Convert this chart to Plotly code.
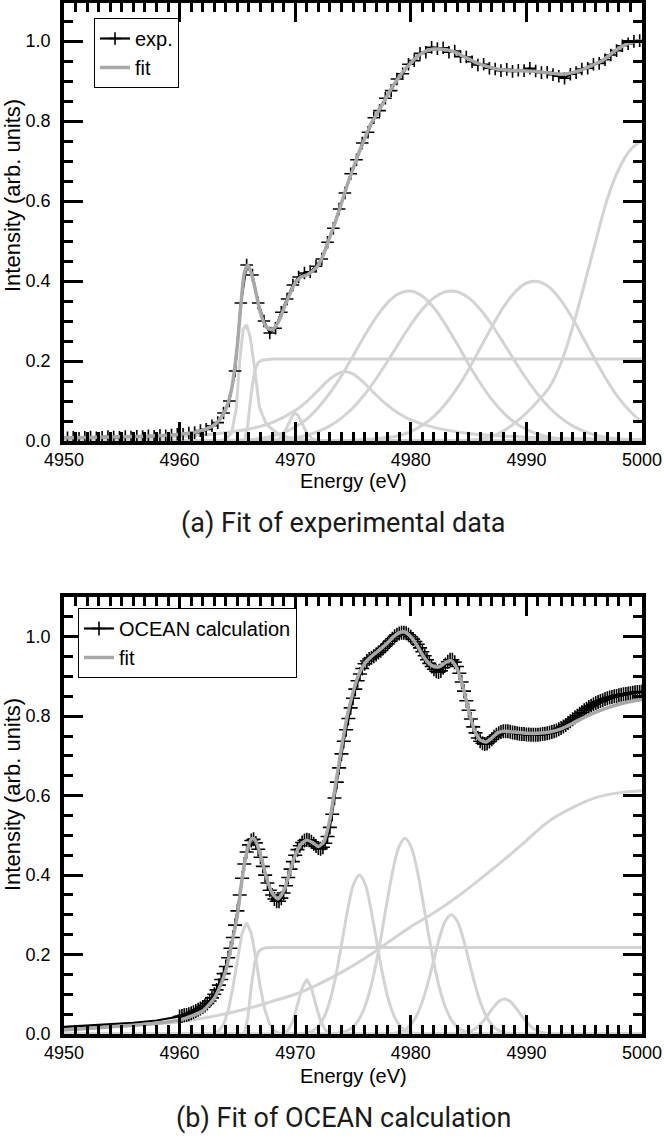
import numpy as np
import plotly.graph_objects as go

# ---------------- Panel (a): experimental data ----------------
exp_a_energy = np.round(np.arange(4950.3, 5000.0, 0.5), 1)
exp_a_values = [
    0.008, 0.009, 0.007, 0.009, 0.010, 0.008, 0.009, 0.011, 0.010, 0.009,
    0.011, 0.010, 0.012, 0.011, 0.013, 0.012, 0.014, 0.013, 0.015, 0.017,
    0.017, 0.020, 0.021, 0.026, 0.029, 0.038, 0.046, 0.070, 0.100, 0.175,
    0.345, 0.440, 0.415, 0.345, 0.300, 0.270, 0.282, 0.322, 0.355, 0.390,
    0.410, 0.420, 0.423, 0.437, 0.455, 0.497, 0.532, 0.580, 0.620, 0.668,
    0.703, 0.745, 0.772, 0.808, 0.826, 0.857, 0.876, 0.905, 0.918, 0.942,
    0.951, 0.969, 0.972, 0.984, 0.981, 0.983, 0.972, 0.975, 0.961, 0.960,
    0.948, 0.940, 0.942, 0.932, 0.930, 0.926, 0.929, 0.924, 0.927, 0.926,
    0.932, 0.925, 0.921, 0.922, 0.916, 0.912, 0.907, 0.917, 0.921, 0.930,
    0.932, 0.942, 0.944, 0.953, 0.965, 0.976, 0.988, 0.993, 0.999, 1.001,
]

fit_a_energy = [4950, 4952, 4954, 4956, 4958, 4960, 4961, 4962, 4963, 4963.5, 4964, 4964.5, 4965,
                4965.3, 4965.6, 4965.9, 4966.2, 4966.5,
                4967, 4967.5, 4968, 4968.5, 4969, 4969.5, 4970, 4970.5, 4971, 4971.5, 4972, 4972.5,
                4973, 4973.5, 4974, 4974.5, 4975, 4975.5, 4976, 4976.5, 4977, 4977.5, 4978, 4978.5,
                4979, 4979.5, 4980, 4980.5, 4981, 4981.5, 4982, 4982.5, 4983, 4983.5, 4984, 4984.5,
                4985, 4985.5, 4986, 4986.5, 4987, 4987.5, 4988,
                4989, 4990, 4991, 4992,
                4992.5, 4993, 4993.5, 4994, 4994.5, 4995, 4995.5, 4996, 4996.5, 4997, 4997.5, 4998,
                4998.5, 4999, 4999.5, 5000]
fit_a_values = [0.008, 0.009, 0.010, 0.011, 0.013, 0.017, 0.020, 0.027, 0.040, 0.055, 0.080, 0.130, 0.240,
                0.340, 0.420, 0.440, 0.420, 0.385,
                0.320, 0.285, 0.278, 0.295, 0.330, 0.365, 0.395, 0.410, 0.415, 0.425, 0.440, 0.470,
                0.510, 0.550, 0.595, 0.640, 0.680, 0.720, 0.755, 0.790, 0.815, 0.840, 0.865, 0.890,
                0.910, 0.930, 0.945, 0.960, 0.970, 0.977, 0.980, 0.980, 0.978, 0.975, 0.970, 0.962,
                0.955, 0.948, 0.942, 0.937, 0.933, 0.930, 0.928,
                0.926, 0.925, 0.923, 0.920,
                0.918, 0.917, 0.918, 0.921, 0.925, 0.930, 0.937, 0.943, 0.950, 0.960, 0.972, 0.982,
                0.990, 0.996, 0.999, 1.000]

# fit components of panel (a)
comp_a1_energy = [4950, 4963.5, 4964.0, 4964.5, 4964.9, 4965.2, 4965.5, 4965.8, 4966.1, 4966.5, 4966.9,
                  4967.5, 4968.4, 4969.5, 4971, 5000]
comp_a1_values = [0, 0, 0.005, 0.02, 0.08, 0.20, 0.28, 0.29, 0.26, 0.18, 0.085, 0.042, 0.02, 0.008, 0.002, 0]
comp_a2_energy = [4950, 4965.6, 4965.9, 4966.2, 4966.5, 4966.8, 4967.1, 4967.5, 4968.0, 5000]
comp_a2_values = [0, 0, 0.04, 0.12, 0.175, 0.196, 0.202, 0.204, 0.205, 0.205]
comp_a3_energy = [4950, 4968.5, 4969.0, 4969.25, 4969.5, 4969.75, 4970.0, 4970.25, 4970.5, 4970.75,
                  4971.0, 4971.5, 4972.0, 5000]
comp_a3_values = [0, 0.002, 0.018, 0.031, 0.047, 0.062, 0.070, 0.064, 0.050, 0.034, 0.020, 0.005, 0, 0]
comp_a4_energy = [4950, 4955, 4960, 4963, 4966, 4968, 4970, 4971, 4972, 4973, 4974, 4974.3, 4975, 4976,
                  4977, 4978, 4979, 4980, 4982, 4985, 4990, 4995, 5000]
comp_a4_values = [0.004, 0.0065, 0.0114, 0.0176, 0.030, 0.046, 0.076, 0.0986, 0.127, 0.155, 0.172, 0.173,
                  0.168, 0.144, 0.115, 0.089, 0.068, 0.053, 0.034, 0.019, 0.0096, 0.0056, 0.0037]
comp_a5_energy = [4950, 4964, 4966, 4968, 4969, 4970, 4971, 4972, 4973, 4974, 4975, 4976, 4977, 4978,
                  4979, 4980, 4981, 4982, 4983, 4984, 4985, 4986, 4987, 4988, 4989, 4990, 4991, 4992,
                  4993, 4994, 5000]
comp_a5_values = [0, 0.001, 0.003, 0.012, 0.021, 0.035, 0.055, 0.084, 0.120, 0.163, 0.212, 0.263, 0.309,
                  0.346, 0.369, 0.375, 0.362, 0.333, 0.291, 0.243, 0.192, 0.145, 0.104, 0.071, 0.046,
                  0.029, 0.017, 0.0095, 0.005, 0.0025, 0]
comp_a6_energy = [4950, 4966, 4968, 4970, 4971, 4972, 4973, 4974, 4975, 4976, 4977, 4978, 4979, 4980,
                  4981, 4982, 4983, 4984, 4985, 4986, 4987, 4988, 4989, 4990, 4991, 4992, 4993, 4994,
                  4995, 4996, 4997, 4998, 5000]
comp_a6_values = [0, 0.001, 0.003, 0.0084, 0.0145, 0.0239, 0.0378, 0.0573, 0.0833, 0.1163, 0.1556,
                  0.1997, 0.246, 0.2906, 0.3292, 0.3578, 0.373, 0.373, 0.3578, 0.3292, 0.2906, 0.246,
                  0.1997, 0.1556, 0.1163, 0.0833, 0.0573, 0.0378, 0.0239, 0.0145, 0.0084, 0.0047, 0.001]
comp_a7_energy = [4950, 4975, 4977, 4978, 4979, 4980, 4981, 4982, 4983, 4984, 4985, 4986, 4987, 4988,
                  4989, 4990, 4991, 4992, 4993, 4994, 4995, 4996, 4997, 4998, 4999, 5000]
comp_a7_values = [0, 0.002, 0.0055, 0.0085, 0.0136, 0.0237, 0.0392, 0.0617, 0.0925, 0.132, 0.179, 0.232,
                  0.285, 0.334, 0.372, 0.395, 0.399, 0.384, 0.351, 0.306, 0.253, 0.200, 0.150, 0.107,
                  0.073, 0.047]
comp_a8_energy = [4950, 4984, 4986, 4987, 4988, 4989, 4990, 4991, 4992, 4993, 4994, 4995, 4996, 4997,
                  4998, 4999, 5000]
comp_a8_values = [0, 0.001, 0.005, 0.012, 0.025, 0.045, 0.070, 0.100, 0.135, 0.195, 0.285, 0.390, 0.500,
                  0.605, 0.680, 0.728, 0.752]

# ---------------- Panel (b): OCEAN calculation ----------------
calc_pre_energy = [4950, 4952, 4954, 4956, 4958, 4960]
calc_pre_values = [0.018, 0.021, 0.024, 0.028, 0.034, 0.044]
calc_b_energy = np.round(np.linspace(4960.0, 5000.0, 201), 1)
calc_b_values = [
    0.044, 0.045, 0.047, 0.048, 0.050, 0.052, 0.055, 0.058, 0.061, 0.064,
    0.068, 0.072, 0.077, 0.083, 0.091, 0.100, 0.111, 0.123, 0.137, 0.152,
    0.170, 0.192, 0.216, 0.243, 0.274, 0.310, 0.350, 0.392, 0.428, 0.458,
    0.476, 0.487, 0.490, 0.481, 0.465, 0.445, 0.422, 0.400, 0.380, 0.362,
    0.350, 0.340, 0.334, 0.334, 0.342, 0.355, 0.373, 0.394, 0.415, 0.434,
    0.450, 0.464, 0.474, 0.482, 0.487, 0.489, 0.488, 0.484, 0.479, 0.473,
    0.468, 0.466, 0.470, 0.480, 0.497, 0.520, 0.553, 0.594, 0.634, 0.670,
    0.705, 0.737, 0.766, 0.794, 0.821, 0.845, 0.868, 0.889, 0.906, 0.920,
    0.932, 0.939, 0.944, 0.947, 0.951, 0.955, 0.960, 0.965, 0.971, 0.976,
    0.982, 0.989, 0.995, 1.001, 1.005, 1.008, 1.010, 1.010, 1.009, 1.005,
    1.000, 0.994, 0.988, 0.981, 0.972, 0.962, 0.952, 0.942, 0.933, 0.925,
    0.918, 0.913, 0.911, 0.914, 0.922, 0.930, 0.937, 0.942, 0.942, 0.936,
    0.925, 0.908, 0.886, 0.863, 0.839, 0.815, 0.793, 0.773, 0.758, 0.745,
    0.737, 0.732, 0.730, 0.731, 0.736, 0.742, 0.748, 0.753, 0.757, 0.760,
    0.762, 0.762, 0.762, 0.761, 0.759, 0.758, 0.757, 0.756, 0.755, 0.755,
    0.754, 0.754, 0.753, 0.753, 0.753, 0.753, 0.754, 0.755, 0.756, 0.757,
    0.758, 0.760, 0.762, 0.764, 0.767, 0.770, 0.774, 0.778, 0.783, 0.787,
    0.792, 0.797, 0.801, 0.806, 0.810, 0.815, 0.819, 0.823, 0.826, 0.830,
    0.833, 0.836, 0.838, 0.840, 0.843, 0.845, 0.847, 0.848, 0.850, 0.851,
    0.853, 0.854, 0.855, 0.856, 0.857, 0.858, 0.859, 0.860, 0.861, 0.861,
    0.862,
]

fit_b_energy = [4950, 4952, 4954, 4956, 4958, 4960, 4961, 4962, 4963, 4963.5, 4964, 4964.5, 4965, 4965.5,
                4966, 4966.3, 4966.6,
                4967, 4967.5, 4968, 4968.5, 4969, 4969.5, 4970, 4970.5, 4971, 4971.5, 4972, 4972.5,
                4973, 4973.5, 4974, 4974.5, 4975, 4975.5, 4976, 4976.5, 4977, 4977.5, 4978, 4978.5,
                4979, 4979.5, 4980, 4980.5, 4981, 4981.5, 4982, 4982.5, 4983, 4983.5, 4984, 4984.5,
                4985, 4985.5, 4986, 4986.5, 4987, 4987.5, 4988,
                4989, 4990, 4991, 4992, 4993, 4994, 4995, 4996, 4997, 4998, 4999, 5000]
fit_b_values = [0.010, 0.014, 0.018, 0.022, 0.027, 0.035, 0.045, 0.058, 0.090, 0.120, 0.160, 0.225, 0.300,
                0.410, 0.478, 0.493, 0.485,
                0.450, 0.395, 0.355, 0.340, 0.360, 0.405, 0.450, 0.478, 0.488, 0.482, 0.472, 0.485,
                0.540, 0.630, 0.720, 0.800, 0.860, 0.905, 0.932, 0.948, 0.960, 0.972, 0.985, 1.000,
                1.010, 1.012, 1.000, 0.980, 0.955, 0.935, 0.925, 0.925, 0.935, 0.940, 0.920, 0.875,
                0.815, 0.765, 0.740, 0.735, 0.745, 0.758, 0.762,
                0.760, 0.757, 0.757, 0.760, 0.768, 0.782, 0.797, 0.810, 0.821, 0.830, 0.837, 0.842]

comp_b1_energy = [4950, 4962.6, 4963.0, 4963.4, 4963.8, 4964.2, 4964.6, 4965.0, 4965.4, 4965.8, 4966.2,
                  4966.6, 4967.0, 4967.4, 4967.8, 4968.2, 4968.6, 4969.0, 5000]
comp_b1_values = [0, 0, 0.002, 0.008, 0.024, 0.058, 0.115, 0.189, 0.254, 0.28, 0.254, 0.189, 0.115, 0.058,
                  0.024, 0.008, 0.002, 0, 0]
comp_b2_energy = [4950, 4965.6, 4965.9, 4966.2, 4966.5, 4966.8, 4967.1, 4967.5, 4968.0, 5000]
comp_b2_values = [0, 0, 0.04, 0.12, 0.18, 0.206, 0.214, 0.217, 0.218, 0.218]
comp_b3_energy = [4950, 4955, 4960, 4963, 4966, 4968, 4970, 4972, 4974, 4976, 4978, 4980, 4982, 4984,
                  4986, 4988, 4990, 4992, 4994, 4996, 4998, 5000]
comp_b3_values = [0.012, 0.020, 0.031, 0.045, 0.065, 0.082, 0.100, 0.125, 0.155, 0.190, 0.230, 0.270,
                  0.305, 0.345, 0.390, 0.437, 0.487, 0.537, 0.570, 0.595, 0.607, 0.612]
comp_b4_energy = [4950, 4968.6, 4969.0, 4969.4, 4969.8, 4970.2, 4970.6, 4971.0, 4971.4, 4971.8, 4972.2,
                  4972.6, 4973.0, 4973.4, 5000]
comp_b4_values = [0, 0, 0.002, 0.010, 0.032, 0.072, 0.117, 0.138, 0.117, 0.072, 0.032, 0.010, 0.002, 0, 0]
comp_b5_energy = [4950, 4970.05, 4970.55, 4971.05, 4971.55, 4972.05, 4972.55, 4973.05, 4973.55, 4974.05,
                  4974.55, 4975.05, 4975.55, 4976.05, 4976.55, 4977.05, 4977.55, 4978.05, 4978.55,
                  4979.05, 4979.55, 4980.05, 4980.55, 4981.05, 5000]
comp_b5_values = [0, 0, 0.001, 0.003, 0.0084, 0.0209, 0.0456, 0.0886, 0.152, 0.232, 0.314, 0.377, 0.400,
                  0.377, 0.314, 0.232, 0.152, 0.0886, 0.0456, 0.0209, 0.0084, 0.003, 0.001, 0, 0]
comp_b6_energy = [4950, 4973.0, 4973.5, 4974.0, 4974.5, 4975.0, 4975.5, 4976.0, 4976.5, 4977.0, 4977.5,
                  4978.0, 4978.5, 4979.0, 4979.5, 4980.0, 4980.5, 4981.0, 4981.5, 4982.0, 4982.5,
                  4983.0, 4983.5, 4984.0, 4984.5, 4985.0, 4985.5, 4986.0, 5000]
comp_b6_values = [0, 0, 0.0014, 0.0035, 0.0083, 0.0181, 0.0362, 0.0667, 0.1135, 0.178, 0.257, 0.342,
                  0.419, 0.473, 0.493, 0.473, 0.419, 0.342, 0.257, 0.178, 0.1135, 0.0667, 0.0362, 0.0181,
                  0.0083, 0.0035, 0.0014, 0, 0]
comp_b7_energy = [4950, 4978.0, 4978.5, 4979.0, 4979.5, 4980.0, 4980.5, 4981.0, 4981.5, 4982.0, 4982.5,
                  4983.0, 4983.5, 4984.0, 4984.5, 4985.0, 4985.5, 4986.0, 4986.5, 4987.0, 4987.5,
                  4988.0, 4988.5, 4989.0, 5000]
comp_b7_values = [0, 0, 0.0017, 0.0044, 0.0107, 0.0235, 0.0461, 0.0817, 0.1305, 0.188, 0.244, 0.285, 0.300,
                  0.285, 0.244, 0.188, 0.1305, 0.0817, 0.0461, 0.0235, 0.0107, 0.0044, 0.0017, 0, 0]
comp_b8_energy = [4950, 4983.6, 4984.1, 4984.6, 4985.1, 4985.6, 4986.1, 4986.6, 4987.1, 4987.6, 4988.1,
                  4988.6, 4989.1, 4989.6, 4990.1, 4990.6, 4991.1, 4991.6, 4992.1, 4992.6, 5000]
comp_b8_values = [0, 0, 0.0008, 0.0023, 0.0061, 0.0139, 0.027, 0.0452, 0.0654, 0.0817, 0.088, 0.0817,
                  0.0654, 0.0452, 0.027, 0.0139, 0.0061, 0.0023, 0.0008, 0, 0]

captions = ["(a) Fit of experimental data", "(b) Fit of OCEAN calculation"]
x_title = "Energy (eV)"
y_title = "Intensity (arb. units)"
x_range = [4950, 5000]

# ---------------- figure ----------------
W, H = 664, 1148
COMP = "#d3d3d3"
FIT = "#a8a8a8"


def fx(p):
    return p / W


def fy(p):
    return 1 - p / H


fig = go.Figure()

comps_a = [(comp_a1_energy, comp_a1_values, "linear"), (comp_a2_energy, comp_a2_values, "linear"),
           (comp_a3_energy, comp_a3_values, "linear"), (comp_a4_energy, comp_a4_values, "spline"),
           (comp_a5_energy, comp_a5_values, "spline"), (comp_a6_energy, comp_a6_values, "spline"),
           (comp_a7_energy, comp_a7_values, "spline"), (comp_a8_energy, comp_a8_values, "spline")]
for e, v, shp in comps_a:
    fig.add_trace(go.Scatter(x=e, y=v, mode="lines", line=dict(color=COMP, width=3, shape=shp),
                             showlegend=False, hoverinfo="skip", xaxis="x", yaxis="y"))

fig.add_trace(go.Scatter(x=exp_a_energy, y=exp_a_values, mode="lines+markers", name="exp.",
                         line=dict(color="black", width=2.2),
                         marker=dict(symbol="cross-thin", size=9, line=dict(width=1.6, color="black"),
                                     color="black"),
                         legend="legend", legendrank=1, xaxis="x", yaxis="y"))
fig.add_trace(go.Scatter(x=fit_a_energy, y=fit_a_values, mode="lines", name="fit",
                         line=dict(color=FIT, width=3.5, shape="spline", smoothing=0.6),
                         legend="legend", legendrank=2, xaxis="x", yaxis="y"))

comps_b = [(comp_b1_energy, comp_b1_values, "linear"), (comp_b2_energy, comp_b2_values, "linear"),
           (comp_b3_energy, comp_b3_values, "spline"), (comp_b4_energy, comp_b4_values, "linear"),
           (comp_b5_energy, comp_b5_values, "spline"), (comp_b6_energy, comp_b6_values, "spline"),
           (comp_b7_energy, comp_b7_values, "spline"), (comp_b8_energy, comp_b8_values, "spline")]
for e, v, shp in comps_b:
    fig.add_trace(go.Scatter(x=e, y=v, mode="lines", line=dict(color=COMP, width=3, shape=shp),
                             showlegend=False, hoverinfo="skip", xaxis="x2", yaxis="y2"))

fig.add_trace(go.Scatter(x=calc_pre_energy, y=calc_pre_values, mode="lines",
                         line=dict(color="black", width=2.2), showlegend=False, hoverinfo="skip",
                         xaxis="x2", yaxis="y2"))
fig.add_trace(go.Scatter(x=calc_b_energy, y=calc_b_values, mode="lines+markers", name="OCEAN calculation",
                         line=dict(color="black", width=2.2),
                         marker=dict(symbol="cross-thin", size=10, line=dict(width=1.6, color="black"),
                                     color="black"),
                         legend="legend2", legendrank=1, xaxis="x2", yaxis="y2"))
fig.add_trace(go.Scatter(x=fit_b_energy, y=fit_b_values, mode="lines", name="fit",
                         line=dict(color=FIT, width=3.5, shape="spline", smoothing=0.6),
                         legend="legend2", legendrank=2, xaxis="x2", yaxis="y2"))

# empty traces so the mirrored tick axes (top / right) are rendered
for xa, ya in [("x3", "y3"), ("x4", "y4")]:
    fig.add_trace(go.Scatter(x=[], y=[], mode="lines", showlegend=False, hoverinfo="skip",
                             xaxis=xa, yaxis=ya))

tickfont = dict(family="Liberation Sans, Arial, sans-serif", size=18, color="black")
xdom = [fx(64), fx(642)]
MAJ = dict(ticks="inside", ticklen=19, tickwidth=3, tickcolor="black")


def xaxis_cfg(anchor, labels=True, overlay=None):
    d = dict(domain=xdom, anchor=anchor, range=x_range, tick0=4950, dtick=10,
             showgrid=False, zeroline=False, tickfont=tickfont, automargin=False,
             showticklabels=labels, ticklabeloverflow="allow",
             minor=dict(dtick=1, ticks="inside", ticklen=9, tickwidth=2.5, tickcolor="black",
                        showgrid=False), **MAJ)
    if overlay:
        d.update(overlaying=overlay, side="top", showline=False)
    else:
        d.update(showline=True, linewidth=3.5, linecolor="black", mirror=True)
    return d


def yaxis_cfg(anchor, dom, top, labels=True, overlay=None):
    d = dict(domain=dom, anchor=anchor, range=[0, top], tick0=0, dtick=0.2, tickformat=".1f",
             showgrid=False, zeroline=False, tickfont=tickfont, ticklabelstandoff=6,
             automargin=False, showticklabels=labels, ticklabeloverflow="allow",
             minor=dict(dtick=0.05, ticks="inside", ticklen=9, tickwidth=2.5, tickcolor="black",
                        showgrid=False), **MAJ)
    if overlay:
        d.update(overlaying=overlay, side="right", showline=False)
    else:
        d.update(showline=True, linewidth=3.5, linecolor="black", mirror=True)
    return d


dom_a = [fy(441), fy(3)]
dom_b = [fy(1034), fy(597)]
legfont = dict(family="Liberation Sans, Arial, sans-serif", size=20, color="black")
fig.update_layout(
    width=W, height=H, margin=dict(l=0, r=0, t=0, b=0, autoexpand=False),
    paper_bgcolor="white", plot_bgcolor="white",
    xaxis=xaxis_cfg("y"),
    yaxis=yaxis_cfg("x", dom_a, 1.095),
    xaxis2=xaxis_cfg("y2"),
    yaxis2=yaxis_cfg("x2", dom_b, 1.1),
    xaxis3=xaxis_cfg("y", labels=False, overlay="x"),
    yaxis3=yaxis_cfg("x", dom_a, 1.095, labels=False, overlay="y"),
    xaxis4=xaxis_cfg("y2", labels=False, overlay="x2"),
    yaxis4=yaxis_cfg("x2", dom_b, 1.1, labels=False, overlay="y2"),
    legend=dict(x=fx(94), y=fy(18), xanchor="left", yanchor="top", bgcolor="white",
                bordercolor="black", borderwidth=1, font=legfont, tracegroupgap=0,
                itemwidth=30),
    legend2=dict(x=fx(78), y=fy(608), xanchor="left", yanchor="top", bgcolor="white",
                 bordercolor="black", borderwidth=1, font=legfont, tracegroupgap=0,
                 itemwidth=30),
    showlegend=True,
)

anns = []
capfont = dict(family="Roboto, sans-serif", size=27, color="#1a1a1a")
axfont = dict(family="Liberation Sans, Arial, sans-serif", size=20, color="black")
yfont = dict(family="Liberation Sans, Arial, sans-serif", size=22, color="black")
for cap, ycap, yx, yy in [(captions[0], 523, 481, 196), (captions[1], 1118, 1076, 795)]:
    anns.append(dict(text=cap, x=fx(343), y=fy(ycap), xref="paper", yref="paper", showarrow=False,
                     xanchor="center", yanchor="middle", font=capfont))
    anns.append(dict(text=x_title, x=fx(353.5), y=fy(yx), xref="paper", yref="paper", showarrow=False,
                     xanchor="center", yanchor="middle", font=axfont))
    anns.append(dict(text=y_title, x=fx(12), y=fy(yy), xref="paper", yref="paper",
                     showarrow=False, xanchor="center", yanchor="middle", textangle=-90,
                     font=yfont, borderpad=0))
fig.update_layout(annotations=anns)

# remove the default 8 px page margin so the figure fills the window exactly; hide the modebar
fig.write_html("out.html", config={"displayModeBar": False},
               post_script="document.body.style.margin='0';"
                           "document.documentElement.style.margin='0';")
